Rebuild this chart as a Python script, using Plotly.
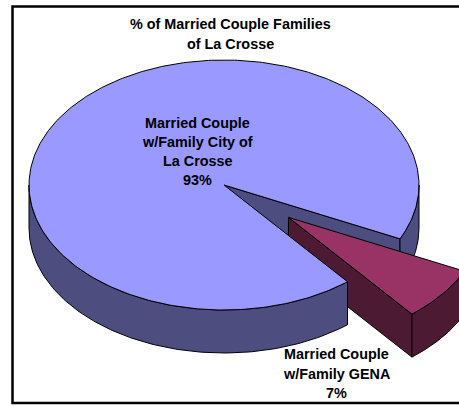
import numpy as np
import plotly.graph_objects as go

# --- data ---
categories = ["Married Couple w/Family City of La Crosse", "Married Couple w/Family GENA"]
values = [93, 7]
colors_top = ["#9999FF", "#993366"]
colors_side = ["#4D4D80", "#4D1A33"]
title_lines = ["% of Married Couple Families", "of La Crosse"]
main_label_lines = ["Married Couple", "w/Family City of", "La Crosse", "93%"]
gena_label_lines = ["Married Couple", "w/Family GENA", "7%"]

# --- projection of the tilted pie ---
CX, CY, RX, RY, H = 224, 185, 195, 125, 43
START = 25.5                     # where the GENA slice begins, degrees clockwise from 3 o'clock
EXPLODE = 0.42

sweep = 360 * values[1] / sum(values)
a0, a1 = START, START + sweep


def rim(t0, t1, dx=0.0, dy=0.0, n=160):
    t = np.radians(np.linspace(t0, t1, n))
    return CX + RX * np.cos(t) + dx, CY + RY * np.sin(t) + dy


def poly(x, y, color):
    return go.Scatter(x=list(x), y=list(y), mode="lines", fill="toself", fillcolor=color,
                      line=dict(color="black", width=1), hoverinfo="skip", showlegend=False)


def side(t0, t1, color, dx=0.0, dy=0.0):
    x, y = rim(t0, t1, dx, dy)
    return poly(np.r_[x, x[::-1], x[0]], np.r_[y, y[::-1] + H, y[0]], color)


def wall(t, color, dx=0.0, dy=0.0):
    x, y = rim(t, t, dx, dy, 1)
    ax, ay = CX + dx, CY + dy
    return poly([ax, x[0], x[0], ax, ax], [ay, y[0], y[0] + H, ay + H, ay], color)


def top(t0, t1, color, dx=0.0, dy=0.0):
    x, y = rim(t0, t1, dx, dy, 400)
    ax, ay = CX + dx, CY + dy
    return poly(np.r_[ax, x, ax], np.r_[ay, y, ay], color)


mid = np.radians((a0 + a1) / 2)
ex, ey = EXPLODE * RX * np.cos(mid), EXPLODE * RY * np.sin(mid)

fig = go.Figure()
# back wall of the gap and the right-hand rim of the large slice
fig.add_trace(wall(a0, colors_side[0]))
fig.add_trace(side(0, a0, colors_side[0]))
# exploded slice
fig.add_trace(wall(a1, colors_side[1], ex, ey))
fig.add_trace(side(a0, a1, colors_side[1], ex, ey))
fig.add_trace(top(a0, a1, colors_top[1], ex, ey))
# front rim and top of the large slice
fig.add_trace(side(a1, 180, colors_side[0]))
fig.add_trace(top(a1, a0 + 360, colors_top[0]))

font = dict(family="Liberation Sans, Arial, sans-serif", size=14.4, color="black")
anns = []


def stack(lines, x, y0, step):
    for i, s in enumerate(lines):
        anns.append(dict(x=x, y=y0 + i * step, text=f"<b>{s}</b>", showarrow=False,
                         xref="x", yref="y", xanchor="center", yanchor="middle", font=font))


stack(title_lines, 230.5, 24, 20)
stack(main_label_lines, 197.5, 123, 19)
stack(gena_label_lines, 336.5, 354, 19.5)

fig.update_layout(
    width=459, height=406, margin=dict(l=0, r=0, t=0, b=0),
    paper_bgcolor="white", plot_bgcolor="white", showlegend=False, annotations=anns,
    xaxis=dict(range=[0, 459], visible=False, fixedrange=True),
    yaxis=dict(range=[406, 0], visible=False, fixedrange=True),
    shapes=[dict(type="rect", xref="x", yref="y", x0=12.5, y0=6.5, x1=475, y1=403,
                 line=dict(color="black", width=2.5), fillcolor="rgba(0,0,0,0)", layer="below")],
)

fig.write_html("out.html", config={"displayModeBar": False},
               post_script="document.body.style.margin='0';document.documentElement.style.overflow='hidden';")
